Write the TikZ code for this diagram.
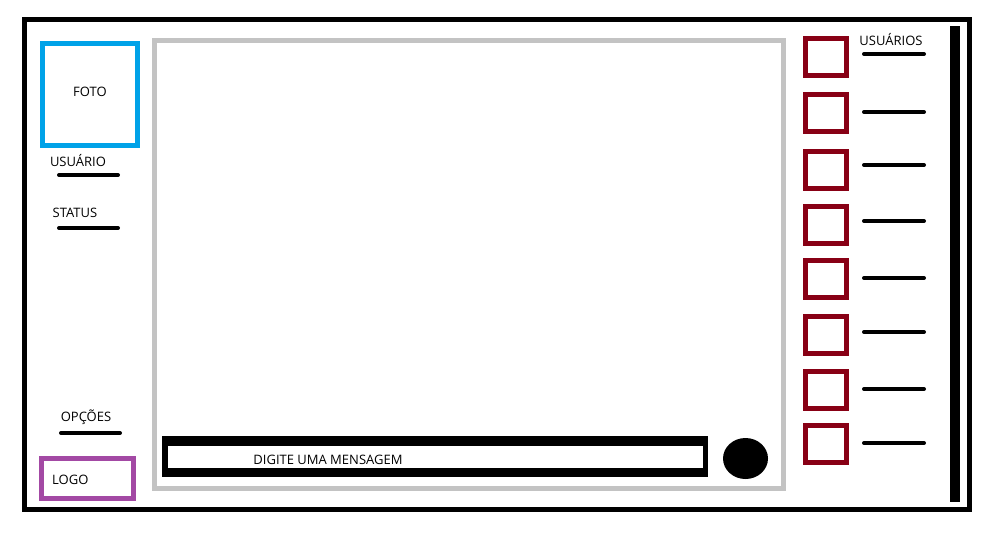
\documentclass[tikz,border=0pt]{standalone}
\usepackage{fontspec}
\setmainfont{Open Sans}
\usepackage{xcolor}
\usetikzlibrary{shapes.geometric}
\definecolor{fotoblue}{HTML}{00A2E8}
\definecolor{logopurple}{HTML}{A349A4}
\definecolor{userred}{HTML}{880015}
\definecolor{chatgray}{HTML}{C3C3C3}
\begin{document}
\begin{tikzpicture}[x=1pt, y=-1pt,
  texto/.style={inner sep=0pt, font=\fontsize{13}{15}\selectfont},
  frame/.style={draw, line width=5pt, inner sep=0pt},
  userbox/.style={frame, draw=userred, minimum width=41pt, minimum height=37pt},
  bar/.style={line width=4pt, line cap=round}]
\useasboundingbox (0,0) rectangle (995,536);
\node[frame, minimum width=945pt, minimum height=490pt] (janela) at (497,264.5) {};
\node[frame, draw=chatgray, minimum width=628.5pt, minimum height=448.5pt] (chat) at (468.75,264.25) {};
\node[fill, minimum width=10pt, minimum height=476pt, inner sep=0pt] (rolagem) at (955,264) {};

% coluna da esquerda
\node[frame, draw=fotoblue, minimum width=95pt, minimum height=102pt] (foto) at (90,94.5) {};
\node[texto] at (90,92) {FOTO};
\node[texto] (usuario) at (78,161) {USUÁRIO};
\coordinate (u1) at (59,175); \coordinate (u2) at (118,175);
\draw[bar] (u1) -- (u2);
\node[texto] (status) at (75,213) {STATUS};
\coordinate (s1) at (59,228); \coordinate (s2) at (118,228);
\draw[bar] (s1) -- (s2);
\node[texto] (opcoes) at (86,417) {OPÇÕES};
\coordinate (o1) at (61,433); \coordinate (o2) at (120,433);
\draw[bar] (o1) -- (o2);
\node[frame, draw=logopurple, minimum width=92pt, minimum height=40pt] (logo) at (87.5,478.5) {};
\node[texto, anchor=west] at (52,480) {LOGO};

% mensagem
\node[fill, minimum width=546pt, minimum height=41pt, inner sep=0pt] (msgfora) at (435,456.5) {};
\node[fill=white, minimum width=535pt, minimum height=22pt, inner sep=0pt] (msg) at (435.5,457) {};
\node[texto] at (328,460) {DIGITE UMA MENSAGEM};
\node[fill, ellipse, minimum width=45pt, minimum height=41pt, inner sep=0pt] (enviar) at (745.5,458.5) {};

% lista de usuarios
\node[texto] (usuarios) at (891,40) {USUÁRIOS};
\foreach \i/\yq/\yl in {1/56.5/54, 2/112.5/112, 3/170/165, 4/225/221, 5/279/278, 6/335/332, 7/390/389, 8/444/443} {
  \node[userbox] (q\i) at (826,\yq) {};
  \coordinate (a\i) at (864,\yl); \coordinate (b\i) at (924,\yl);
  \draw[bar] (a\i) -- (b\i);
}
\end{tikzpicture}
\end{document}
